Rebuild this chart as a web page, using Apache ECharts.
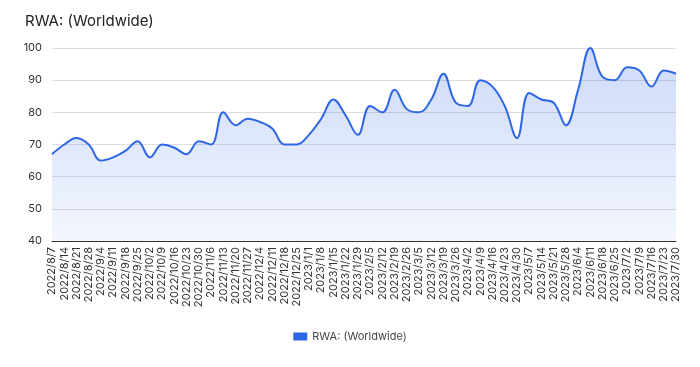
<!DOCTYPE html>
<html><head><meta charset="utf-8">
<script src="https://cdn.jsdelivr.net/npm/echarts@6/dist/echarts.min.js"></script>
<style>html,body{margin:0;padding:0;background:#fff}#c{width:700px;height:367px}</style>
</head><body><div id="c"></div>
<script>
const categories = ["2022/8/7","2022/8/14","2022/8/21","2022/8/28","2022/9/4","2022/9/11","2022/9/18","2022/9/25","2022/10/2","2022/10/9","2022/10/16","2022/10/23","2022/10/30","2022/11/6","2022/11/13","2022/11/20","2022/11/27","2022/12/4","2022/12/11","2022/12/18","2022/12/25","2023/1/1","2023/1/8","2023/1/15","2023/1/22","2023/1/29","2023/2/5","2023/2/12","2023/2/19","2023/2/26","2023/3/5","2023/3/12","2023/3/19","2023/3/26","2023/4/2","2023/4/9","2023/4/16","2023/4/23","2023/4/30","2023/5/7","2023/5/14","2023/5/21","2023/5/28","2023/6/4","2023/6/11","2023/6/18","2023/6/25","2023/7/2","2023/7/9","2023/7/16","2023/7/23","2023/7/30"];
const values = [67,70,72,70,65,66,68,71,66,70,69,67,71,70,80,76,78,77,75,70,70,73,78,84,79,73,82,80,87,81,80,84,92,83,82,90,88,82,72,86,84,83,76,87,100,91,90,94,93,88,93,92];
const seriesName = "RWA: (Worldwide)";
const yTicks = {min: 40, max: 100, interval: 10};

const chart = echarts.init(document.getElementById('c'));
chart.setOption({
  animation: false,
  textStyle: {fontFamily: 'Inter, Roboto, sans-serif'},
  title: {text: seriesName, left: 20, top: 9, textStyle: {fontSize: 15, fontWeight: 'normal', color: '#222', fontFamily: 'Inter, sans-serif'}},
  legend: {bottom: 20, left: 'center', itemWidth: 14, itemHeight: 8, icon: 'rect', textStyle: {color: '#444', fontSize: 11}, data: [seriesName]},
  grid: {left: 52, right: 24, top: 48, bottom: 126},
  xAxis: {type: 'category', data: categories, boundaryGap: false,
    axisLine: {lineStyle: {color: '#333'}}, axisTick: {show: false},
    axisLabel: {rotate: 90, interval: 0, fontSize: 11, color: '#333', margin: 6}},
  yAxis: {type: 'value', min: yTicks.min, max: yTicks.max, interval: yTicks.interval,
    axisLabel: {fontSize: 11, color: '#333', margin: 10},
    splitLine: {lineStyle: {color: '#ddd'}}},
  series: [{name: seriesName, type: 'line', data: values, smooth: 0.4, symbol: 'none',
    lineStyle: {color: '#2f66e6', width: 2}, itemStyle: {color: '#2f66e6'},
    areaStyle: {color: new echarts.graphic.LinearGradient(0,0,0,1,[{offset:0,color:'rgba(47,102,230,0.35)'},{offset:1,color:'rgba(47,102,230,0.08)'}])}}]
});
</script></body></html>
